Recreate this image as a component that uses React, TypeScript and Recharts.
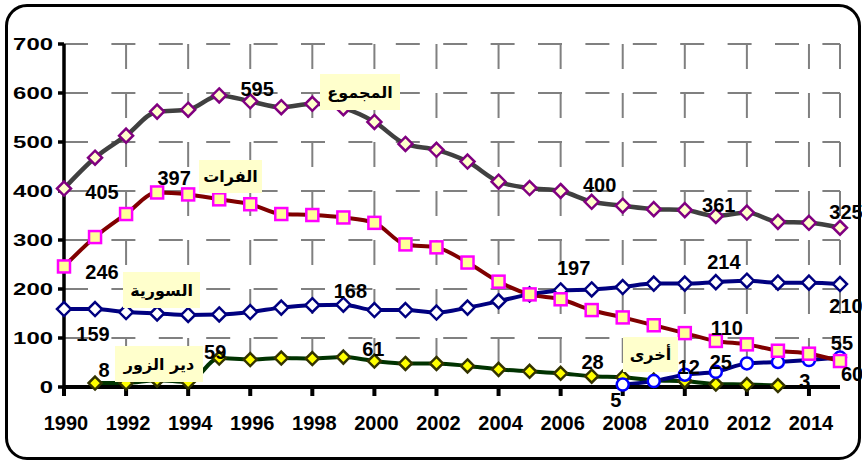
import React from "react"
import { CartesianGrid, LabelList, Line, LineChart, XAxis, YAxis } from "recharts"

const years = [1990, 1991, 1992, 1993, 1994, 1995, 1996, 1997, 1998, 1999, 2000, 2001, 2002, 2003, 2004, 2005, 2006, 2007, 2008, 2009, 2010, 2011, 2012, 2013, 2014, 2015]

const total = [405, 468, 513, 562, 566, 595, 583, 571, 578, 569, 541, 496, 484, 460, 419, 406, 400, 378, 370, 363, 361, 349, 356, 337, 335, 325]
const euphrates = [246, 306, 353, 397, 393, 383, 373, 353, 351, 346, 335, 291, 285, 254, 215, 189, 179, 157, 142, 126, 110, 94, 87, 74, 68, 53]
const syria = [159, 159, 153, 150, 147, 148, 153, 162, 167, 168, 157, 157, 152, 162, 175, 189, 197, 199, 204, 211, 211, 214, 217, 213, 213, 210]
const deirEzZor = [null, 8, 8, 14, 10, 59, 56, 59, 58, 61, 53, 48, 48, 43, 36, 32, 28, 22, 20, 14, 12, 6, 5, 3, null, null]
const others = [null, null, null, null, null, null, null, null, null, null, null, null, null, null, null, null, null, null, 5, 12, 25, 31, 48, 51, 55, 60]

const xTicks = [1990, 1992, 1994, 1996, 1998, 2000, 2002, 2004, 2006, 2008, 2010, 2012, 2014]
const yTicks = [0, 100, 200, 300, 400, 500, 600, 700]

const data = years.map((year, i) => ({
  year,
  total: total[i],
  euphrates: euphrates[i],
  syria: syria[i],
  deir: deirEzZor[i],
  others: others[i],
}))

// where the value labels sit, relative to their point
const totalLabels: Record<number, number[]> = { 1990: [38, 3], 1995: [38, -6], 2006: [39, -6], 2010: [34, -5], 2015: [6, -16] }
const euphratesLabels: Record<number, number[]> = { 1990: [38, 6], 1993: [17, -14], 2010: [42, -5] }
const syriaLabels: Record<number, number[]> = { 1990: [29, 25], 1999: [7, -14], 2006: [13, -22], 2011: [8, -20], 2015: [6, 22] }
const deirLabels: Record<number, number[]> = { 1991: [9, -13], 1995: [-4, -6], 1999: [30, -8], 2006: [32, -11], 2013: [27, -5] }
const othersLabels: Record<number, number[]> = { 2008: [-7, 15], 2009: [35, -14], 2010: [36, -13], 2014: [33, -17], 2015: [12, 16] }

const numFont = "Arial, 'Liberation Sans', sans-serif"
const chartMargin = { top: 44, right: 22, left: 8, bottom: 36 }

const makeLabel = (offsets: Record<number, number[]>) => (props: any) => {
  const o = offsets[years[props.index]]
  if (!o || props.value == null) return null
  return (
    <text
      key={`lbl-${props.index}`}
      x={props.x + o[0]}
      y={props.y + o[1]}
      textAnchor="middle"
      dominantBaseline="central"
      fontFamily={numFont}
      fontWeight="bold"
      fontSize={20}
      fill="#000"
    >
      {props.value}
    </text>
  )
}

const diamondDot = (fill: string, stroke: string, r: number) => (props: any) => {
  const { cx, cy, index, value } = props
  if (value == null || cx == null || cy == null) return <g key={`d-${index}`} />
  return (
    <polygon
      key={`d-${index}`}
      points={`${cx},${cy - r} ${cx + r},${cy} ${cx},${cy + r} ${cx - r},${cy}`}
      fill={fill}
      stroke={stroke}
      strokeWidth={2.5}
    />
  )
}

const squareDot = (props: any) => {
  const { cx, cy, index, value } = props
  if (value == null || cx == null) return <g key={`s-${index}`} />
  return <rect key={`s-${index}`} x={cx - 6} y={cy - 6} width={12} height={12} fill="#ffff99" stroke="#ff00ff" strokeWidth={2.5} />
}

const circleDot = (props: any) => {
  const { cx, cy, index, value } = props
  if (value == null || cx == null) return <g key={`c-${index}`} />
  return <circle key={`c-${index}`} cx={cx} cy={cy} r={6} fill="#fff" stroke="#0000ff" strokeWidth={2.5} />
}

const totalDot = diamondDot("#ffffcc", "#800080", 7)
const syriaDot = diamondDot("#ffffff", "#000080", 7)
const deirDot = diamondDot("#ffff00", "#333300", 6.5)
const totalLabel = makeLabel(totalLabels)
const euphratesLabel = makeLabel(euphratesLabels)
const syriaLabel = makeLabel(syriaLabels)
const deirLabel = makeLabel(deirLabels)
const othersLabel = makeLabel(othersLabels)

const YTick = ({ x, y, payload }: any) => {
  const s = String(payload.value)
  return (
    <text x={x} y={y} textAnchor="end" dominantBaseline="central" fontFamily={numFont} fontWeight="bold" fontSize={16.5}
      textLength={s.length * 13.3} lengthAdjust="spacingAndGlyphs" fill="#000">
      {s}
    </text>
  )
}

const XTick = ({ x, y, payload }: any) => (
  <text x={x + 2} y={y + 25} textAnchor="middle" dominantBaseline="central" fontFamily={numFont} fontWeight="bold" fontSize={20} fill="#000">
    {payload.value}
  </text>
)

const xAxisLine = { stroke: "#000", strokeWidth: 4 }
const yAxisLine = { stroke: "#000", strokeWidth: 3.5 }
const hiddenTick = { fill: "none" }

// the dashed grid sits in its own chart underneath, on the same axes
function GridLayer({ vertical }: { vertical: boolean }) {
  return (
    <div style={{ position: "absolute", left: 0, top: 0 }}>
      <LineChart width={862} height={463} data={data} margin={chartMargin}>
        <CartesianGrid
          horizontal={!vertical}
          vertical={vertical}
          stroke="#808080"
          strokeWidth={2}
          strokeDasharray={vertical ? "25 24" : "24 23.4"}
        />
        <XAxis dataKey="year" type="number" domain={[1990, 2015]} ticks={xTicks} interval={0} height={40} tick={hiddenTick} axisLine={false} tickLine={false} />
        <YAxis domain={[0, 700]} ticks={yTicks} interval={0} width={56} tick={hiddenTick} axisLine={false} tickLine={false} />
        <Line dataKey="total" stroke="none" dot={false} isAnimationActive={false} />
      </LineChart>
    </div>
  )
}

const boxStyle: React.CSSProperties = {
  position: "absolute",
  background: "#ffffcc",
  display: "flex",
  alignItems: "center",
  justifyContent: "center",
  fontFamily: "'DejaVu Sans', sans-serif",
  fontWeight: "bold",
  fontSize: 16,
  color: "#000",
  direction: "rtl",
}

export default function App() {
  return (
    <div style={{ position: "relative", width: 862, height: 463, background: "#fff", overflow: "hidden" }}>
      <style>{`body{margin:0}`}</style>
      <GridLayer vertical={true} />
      <GridLayer vertical={false} />
      <div style={{ position: "absolute", left: 0, top: 0 }}>
        <LineChart width={862} height={463} data={data} margin={chartMargin}>
          <XAxis
            dataKey="year"
            type="number"
            domain={[1990, 2015]}
            ticks={xTicks}
            interval={0}
            height={40}
            tick={<XTick />}
            tickSize={9}
            axisLine={xAxisLine}
            tickLine={xAxisLine}
          />
          <YAxis
            domain={[0, 700]}
            ticks={yTicks}
            interval={0}
            width={56}
            tick={<YTick />}
            tickSize={6}
            tickMargin={5}
            axisLine={yAxisLine}
            tickLine={yAxisLine}
          />
          <Line type="monotone" dataKey="deir" stroke="#003300" strokeWidth={4} dot={deirDot} isAnimationActive={false}>
            <LabelList dataKey="deir" content={deirLabel} />
          </Line>
          <Line type="monotone" dataKey="others" stroke="#000080" strokeWidth={4} dot={circleDot} isAnimationActive={false}>
            <LabelList dataKey="others" content={othersLabel} />
          </Line>
          <Line type="monotone" dataKey="syria" stroke="#000080" strokeWidth={4} dot={syriaDot} isAnimationActive={false}>
            <LabelList dataKey="syria" content={syriaLabel} />
          </Line>
          <Line type="monotone" dataKey="euphrates" stroke="#800000" strokeWidth={4} dot={squareDot} isAnimationActive={false}>
            <LabelList dataKey="euphrates" content={euphratesLabel} />
          </Line>
          <Line type="monotone" dataKey="total" stroke="#404040" strokeWidth={4.5} dot={totalDot} isAnimationActive={false}>
            <LabelList dataKey="total" content={totalLabel} />
          </Line>
        </LineChart>
      </div>

      <div style={{ ...boxStyle, left: 320, top: 74, width: 80, height: 36 }}>المجموع</div>
      <div style={{ ...boxStyle, left: 199, top: 160, width: 63, height: 33 }}>الفرات</div>
      <div style={{ ...boxStyle, left: 123, top: 272, width: 77, height: 36 }}>السورية</div>
      <div style={{ ...boxStyle, left: 115, top: 346, width: 88, height: 36 }}>دير الزور</div>
      <div style={{ ...boxStyle, left: 623, top: 337, width: 55, height: 35 }}>أخرى</div>

      <div
        style={{
          position: "absolute",
          left: 5,
          top: 4,
          width: 856,
          height: 456,
          boxSizing: "border-box",
          border: "3px solid #000",
          borderRadius: 22,
          pointerEvents: "none",
        }}
      />
    </div>
  )
}
